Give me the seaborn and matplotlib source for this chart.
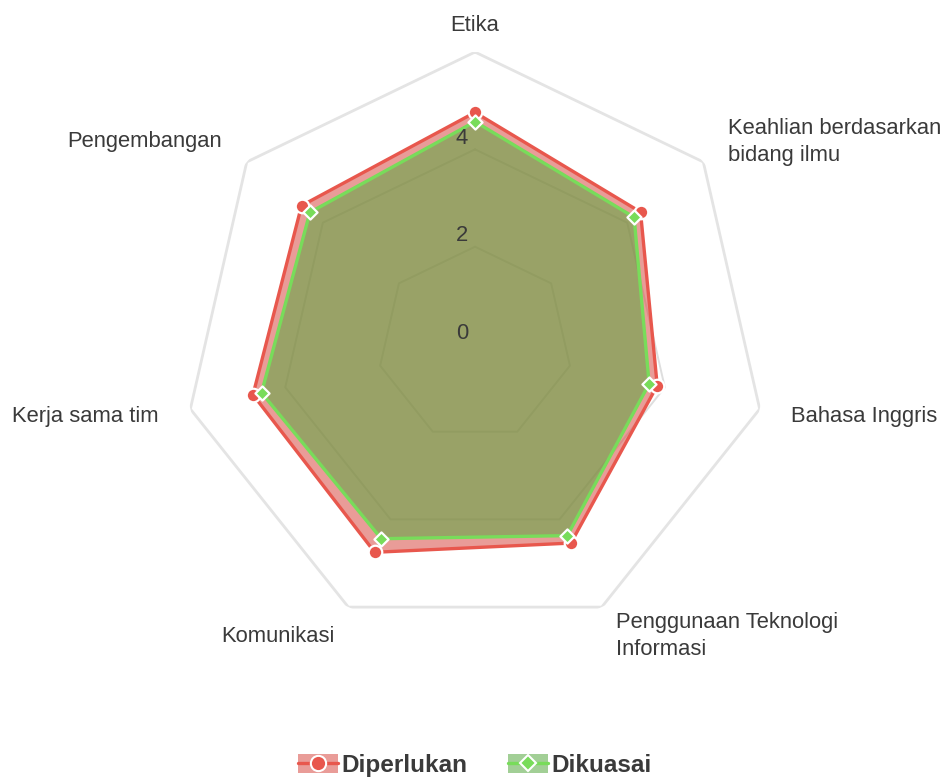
import numpy as np
import pandas as pd
import matplotlib
matplotlib.use("Agg")
import matplotlib.pyplot as plt
import seaborn as sns
from matplotlib.lines import Line2D
from matplotlib.patches import Patch

# ---- DATA ----
categories = [
    "Etika",
    "Keahlian berdasarkan\nbidang ilmu",
    "Bahasa Inggris",
    "Penggunaan Teknologi\nInformasi",
    "Komunikasi",
    "Kerja sama tim",
    "Pengembangan",
]
diperlukan = [4.76, 4.35, 3.84, 4.54, 4.75, 4.68, 4.56]
dikuasai = [4.57, 4.18, 3.67, 4.37, 4.44, 4.50, 4.34]
series_names = ["Diperlukan", "Dikuasai"]
rings = [2, 4, 6]
tick_values = [0, 2, 4]
tick_labels = ["0", "2", "4"]

RED_LINE = "#e8574d"
RED_FILL = "#d84c44"
GREEN_LINE = "#78dc5a"
GREEN_FILL = "#57a840"
TEXT = "#3a3a3a"

sns.set_theme(style="white")
plt.rcParams["font.family"] = ["Liberation Sans", "DejaVu Sans"]

n = len(categories)
theta = np.linspace(0, 2 * np.pi, n, endpoint=False)
theta_closed = np.append(theta, theta[0])

fig = plt.figure(figsize=(9.46, 7.78), dpi=100)
ax = fig.add_axes([0.1935, 0.1825, 0.6173, 0.7506], projection="polar")
ax.set_theta_offset(np.pi / 2)
ax.set_theta_direction(-1)
ax.set_ylim(0, 6)
ax.set_axis_off()

# heptagon grid rings
for r in rings:
    if r == 6:
        ax.plot(theta_closed, [r] * (n + 1), color="#e4e4e4", lw=2.0, zorder=1)
    else:
        ax.plot(theta_closed, [r] * (n + 1), color="#c8c8c8", lw=1.4, alpha=0.6, zorder=1)

# ---- SERIES ----
df = pd.DataFrame({"theta": theta, "Diperlukan": diperlukan, "Dikuasai": dikuasai})
styles = [
    ("Diperlukan", RED_LINE, RED_FILL, "o", 95),
    ("Dikuasai", GREEN_LINE, GREEN_FILL, "D", 52),
]
z = 2
for name, line_c, fill_c, marker, size in styles:
    vals = np.append(df[name].values, df[name].values[0])
    ax.fill(theta_closed, vals, color=fill_c, alpha=0.55, lw=0, zorder=z)
    sns.lineplot(x=theta_closed, y=vals, sort=False, estimator=None, color=line_c,
                 lw=2.4, ax=ax, zorder=z + 1)
    sns.scatterplot(data=df, x="theta", y=name, marker=marker, s=size, color=line_c,
                    edgecolor="white", linewidth=1.6, ax=ax, zorder=z + 2, legend=False)
    z += 3
ax.set_xlabel("")
ax.set_ylabel("")
ax.set_ylim(0, 6)

# tick labels
for lab, r in zip(tick_labels, tick_values):
    ax.annotate(lab, xy=(0, r), xytext=(-13, 11), textcoords="offset pixels",
                ha="center", va="center", fontsize=15.8, color=TEXT, zorder=20)

# point labels
for t, lab in zip(theta, categories):
    s = np.sin(t)
    if abs(s) < 1e-6:
        ha = "center"
        r_lab = 6.55
    elif s > 0:
        ha = "left"
        r_lab = 6.66
    else:
        ha = "right"
        r_lab = 6.66
    ax.text(t, r_lab, lab, ha=ha, va="center", fontsize=15.8, color=TEXT,
            linespacing=1.4, clip_on=False)

# ---- LEGEND ----
handles = [
    (Patch(facecolor=RED_FILL, alpha=0.55, edgecolor="none"),
     Line2D([], [], color=RED_LINE, lw=2.4, marker="o", markersize=11,
            markeredgecolor="white", markeredgewidth=1.5)),
    (Patch(facecolor=GREEN_FILL, alpha=0.55, edgecolor="none"),
     Line2D([], [], color=GREEN_LINE, lw=2.4, marker="D", markersize=8,
            markeredgecolor="white", markeredgewidth=1.5)),
]
fig.legend(handles, series_names, loc="center", bbox_to_anchor=(0.502, 0.016),
           ncol=2, frameon=False, handlelength=1.65, handleheight=0.8,
           columnspacing=1.65, handletextpad=0.15,
           prop={"weight": "bold", "size": 17.5}, labelcolor=TEXT)

fig.savefig("out.png", dpi=100)
